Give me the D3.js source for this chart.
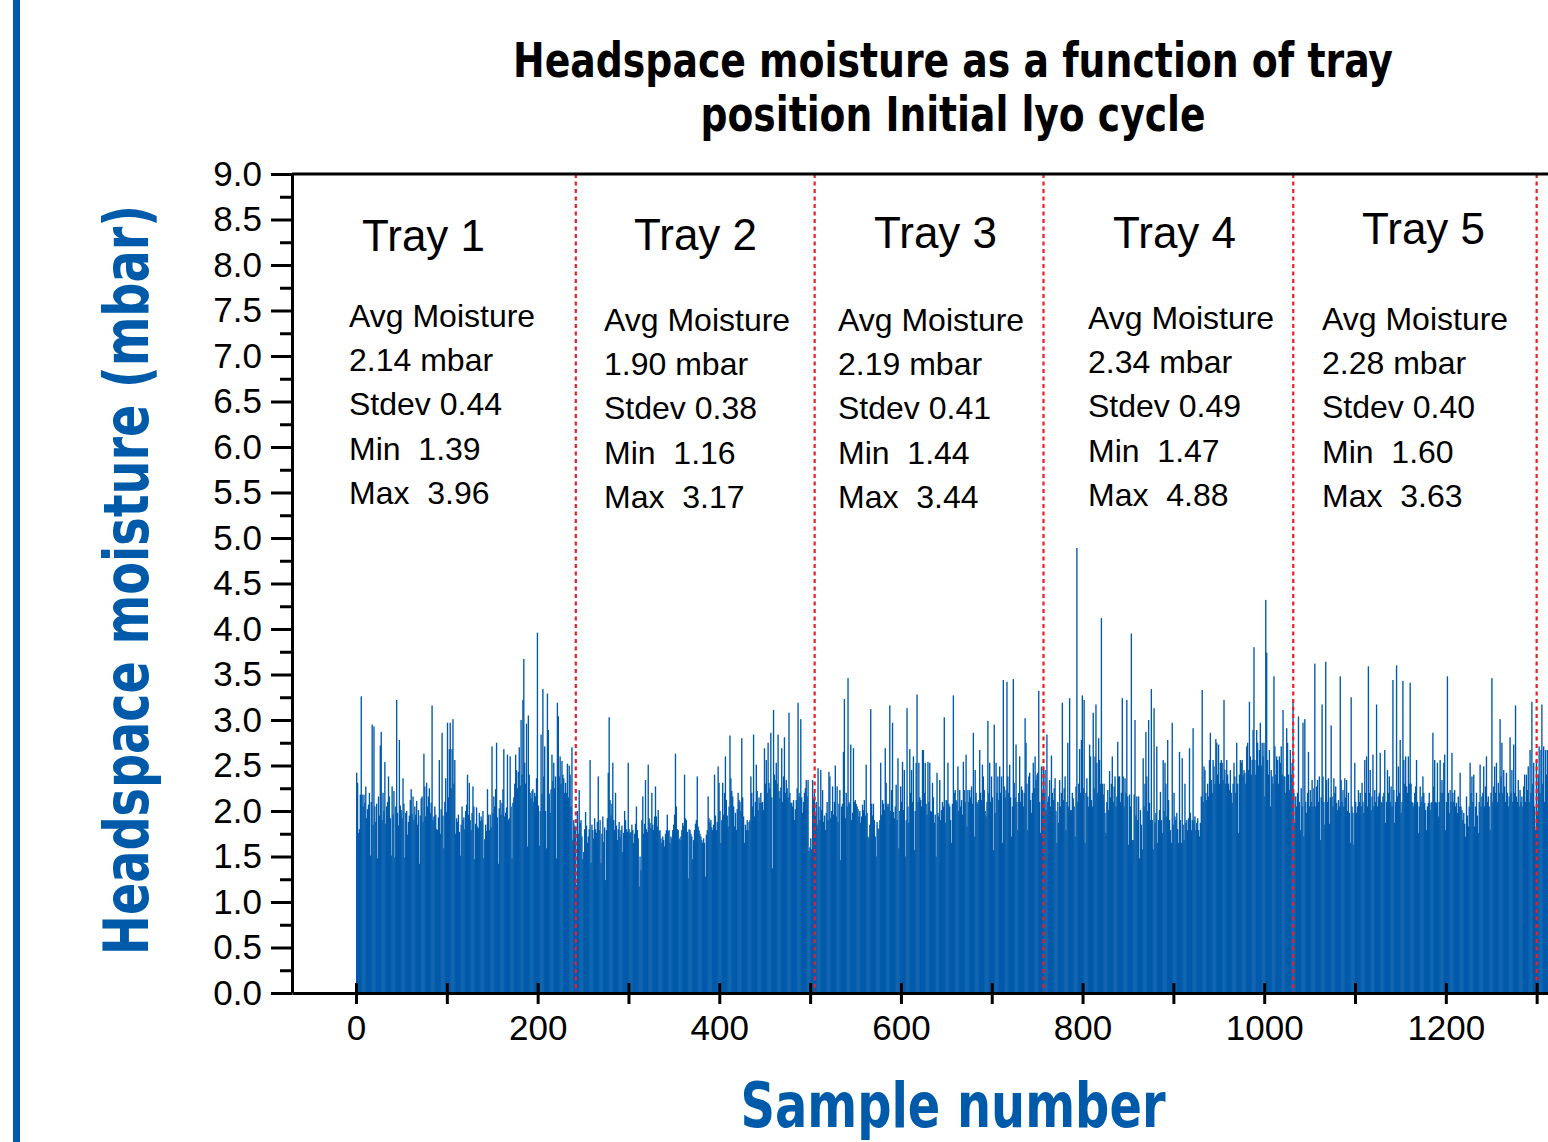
<!DOCTYPE html>
<html>
<head>
<meta charset="utf-8">
<script src="https://cdn.jsdelivr.net/npm/d3@7"></script>
<style>
  html, body { margin: 0; padding: 0; background: #fff; }
  svg { display: block; }
</style>
</head>
<body>
<div id="chart"></div>
<script>
// ---- data ----
const trayNames = ["Tray 1", "Tray 2", "Tray 3", "Tray 4", "Tray 5"];
const avgMoisture = ["2.14", "1.90", "2.19", "2.34", "2.28"];
const stdevs = ["0.44", "0.38", "0.41", "0.49", "0.40"];
const mins = ["1.39", "1.16", "1.44", "1.47", "1.60"];
const maxs = ["3.96", "3.17", "3.44", "4.88", "3.63"];
// last sample number of each tray (dashed separators)
const trayEnds = [242, 505, 757, 1032, 1300];

const yTicks = d3.range(0, 9.01, 0.5);
const yMinor = d3.range(0.25, 9, 0.5);
const xTicks = d3.range(0, 1301, 100);

// headspace moisture per sample (mbar), samples 1..242
const tray1 = [
  2.42,2.31,1.76,1.80,2.18,3.26,2.18,2.05,2.18,2.09,
  2.27,1.92,2.02,2.07,2.20,1.51,2.10,2.95,1.85,2.93,
  2.05,1.88,2.08,1.48,2.16,1.95,2.72,2.87,1.90,2.20,
  2.00,2.54,1.86,2.05,2.10,2.38,2.16,1.92,1.51,2.27,
  1.96,2.22,1.49,2.05,3.22,1.98,1.84,2.78,2.06,2.01,
  1.92,2.36,2.08,1.49,1.98,2.00,1.74,1.88,1.95,2.12,
  2.24,1.97,2.16,1.90,2.05,1.96,2.11,1.85,2.01,1.42,
  1.95,2.14,2.16,1.88,2.63,2.27,1.94,2.31,2.05,2.16,
  2.25,1.98,2.09,3.16,1.90,1.94,2.05,1.96,1.80,1.79,
  1.93,2.56,1.75,2.02,2.86,1.95,1.59,2.10,2.36,1.99,
  2.97,2.15,2.68,2.97,2.25,2.68,3.01,2.30,2.56,1.75,
  1.92,1.88,1.96,1.77,1.51,1.85,2.05,1.90,1.93,1.80,
  2.00,2.07,2.40,1.96,2.31,1.90,1.79,1.98,2.27,2.05,
  1.47,1.86,2.04,1.83,1.81,1.98,1.89,1.94,1.90,2.00,
  1.48,1.69,1.85,1.78,2.24,1.96,1.79,1.96,1.82,2.71,
  1.98,2.16,2.05,2.24,2.75,1.93,1.42,2.03,2.12,1.96,
  2.09,2.24,2.68,1.94,1.98,2.04,2.62,1.90,1.92,2.60,
  2.05,1.48,2.09,2.15,2.30,2.62,2.45,2.25,2.43,2.70,
  2.28,3.00,2.40,3.22,3.67,2.53,2.30,2.96,1.61,3.05,
  2.40,2.20,2.14,2.22,2.24,2.10,2.20,2.16,2.36,3.96,
  2.06,1.62,2.00,2.84,2.19,3.34,2.38,2.71,2.00,1.59,
  3.29,2.89,2.19,1.98,2.24,2.62,2.33,2.53,2.25,2.38,
  1.48,3.19,3.04,2.38,2.60,2.30,2.55,2.40,2.36,2.20,
  2.31,2.20,2.52,2.15,2.50,2.40,2.05,2.70,1.68,1.90,1.84,1.79
];
// samples 243..505
const tray2 = [
  1.19,2.00,1.75,2.23,1.87,1.90,1.72,1.47,1.55,1.80,
  1.99,1.84,1.65,1.72,1.80,2.56,1.43,1.85,1.79,1.70,
  1.92,1.80,1.76,1.88,2.38,1.79,1.90,1.43,1.75,1.94,
  1.66,1.82,1.24,1.79,1.92,2.42,3.03,2.12,1.95,2.08,
  2.53,1.90,1.79,2.20,1.84,1.68,1.80,1.88,1.72,1.79,
  1.84,1.55,1.76,2.00,1.90,1.80,1.77,2.53,1.80,1.76,
  1.77,1.85,1.79,1.65,1.75,1.86,2.05,1.79,1.70,1.17,
  1.50,1.35,1.90,2.16,1.75,1.86,2.34,1.80,1.77,2.51,
  1.92,1.87,1.81,2.20,1.85,1.79,1.94,2.27,1.94,1.83,
  2.01,1.78,1.79,1.70,1.65,1.72,1.68,1.61,1.75,1.79,
  1.96,1.78,1.79,1.65,1.72,1.70,1.79,1.85,1.96,2.63,
  2.05,1.80,1.79,1.70,1.68,1.72,1.79,1.87,1.84,2.40,
  1.92,1.90,1.77,1.26,1.80,1.79,1.75,1.72,1.47,1.68,
  1.79,1.86,1.90,2.38,1.83,1.79,1.75,1.72,1.68,1.65,
  1.70,1.65,1.28,1.74,1.79,2.16,1.92,1.87,1.90,1.82,
  1.79,1.85,2.40,1.95,1.79,1.88,2.49,2.31,2.00,1.65,
  1.90,2.31,1.96,2.20,2.60,2.12,1.95,1.83,2.05,2.83,
  2.36,2.22,2.16,2.05,1.83,1.98,1.79,2.02,2.20,2.12,
  2.10,2.00,2.80,2.15,1.94,1.65,1.85,1.79,1.90,1.79,
  1.88,1.90,2.38,2.20,2.05,2.84,1.94,2.10,2.51,2.22,
  2.01,2.15,2.09,2.20,2.09,2.10,2.01,2.69,2.30,2.56,
  2.20,2.75,2.31,2.25,2.86,2.15,1.37,3.11,2.40,2.34,
  2.53,2.30,2.84,2.22,2.14,2.26,2.69,2.10,2.38,2.81,
  2.20,2.34,2.25,2.15,3.08,2.20,2.09,2.09,2.05,2.12,
  1.90,2.02,2.12,2.25,3.19,2.16,2.20,3.01,2.15,1.98,
  2.10,2.20,2.25,2.34,2.16,2.34,1.56,1.60,1.70,1.58,2.34,2.14,2.20
];
// samples 506..757
const tray3 = [
  1.95,2.10,1.85,2.47,2.05,1.90,2.45,2.01,2.23,1.88,
  1.95,1.79,1.98,2.10,1.90,2.43,2.38,1.92,2.00,2.27,
  1.96,2.10,2.50,1.94,2.27,1.88,2.08,2.23,1.46,2.05,
  2.08,2.65,3.23,1.92,2.20,2.05,3.46,2.10,2.08,2.73,
  1.90,1.98,2.69,2.10,2.12,2.08,2.05,2.02,1.94,2.00,
  1.87,1.94,2.07,2.01,2.12,1.95,2.51,1.98,1.72,1.70,
  1.85,3.12,2.08,1.95,2.08,1.90,1.72,1.50,1.88,1.81,
  1.80,1.90,2.53,1.96,2.12,2.08,2.01,2.69,2.31,2.08,
  2.05,2.08,3.16,2.00,2.23,2.97,1.99,1.92,2.05,2.29,
  1.90,2.58,1.59,2.00,2.27,2.10,2.54,2.01,2.45,1.50,
  1.90,3.13,2.05,1.87,2.68,2.20,2.45,2.10,2.60,1.57,
  2.00,2.53,3.28,2.10,2.53,2.15,2.12,2.05,2.67,2.67,
  2.20,2.53,2.08,1.96,2.54,2.10,2.53,2.00,1.99,2.31,
  2.15,1.87,1.96,1.50,2.42,1.98,1.94,2.34,1.90,2.01,
  2.10,2.05,3.03,1.87,2.12,2.12,2.53,2.08,2.05,1.90,
  1.65,2.08,3.27,2.20,2.23,2.12,2.10,2.49,2.00,2.23,
  2.05,2.12,1.96,2.54,2.23,2.10,2.62,1.83,2.23,2.10,
  2.23,2.15,2.27,2.08,2.86,1.72,2.45,2.20,2.10,2.08,
  2.12,2.67,2.20,2.12,2.51,2.38,2.23,2.00,1.94,2.10,
  2.99,2.20,2.53,2.10,2.38,2.15,1.57,2.95,1.98,2.53,
  2.20,2.38,2.12,2.49,2.20,2.38,1.65,3.44,2.27,2.15,
  2.23,3.42,2.38,2.20,2.51,2.15,1.72,2.05,3.45,2.31,
  2.15,2.73,2.10,1.79,2.20,2.60,2.10,2.27,2.23,2.05,
  2.20,3.02,2.75,2.30,1.79,2.38,2.42,2.12,1.98,2.20,
  2.53,2.25,2.60,2.34,2.40,2.42,3.32,2.10,1.76,2.49,2.20,2.49
];
// samples 758..1032
const tray4 = [
  2.20,2.45,2.01,2.84,2.10,2.16,2.34,2.05,2.61,2.20,
  2.12,2.25,2.36,2.00,1.65,2.10,1.87,2.34,2.05,2.20,
  3.19,2.12,2.25,2.38,1.79,2.10,2.75,2.05,3.24,2.01,
  2.01,2.20,2.14,2.05,1.72,2.27,4.89,2.10,2.30,2.68,
  2.20,2.78,3.27,2.25,3.22,1.65,2.20,2.36,2.16,2.05,
  2.73,2.60,2.12,2.05,3.08,2.25,2.60,3.17,2.53,2.20,
  2.80,2.56,2.30,4.12,2.30,2.18,2.30,1.98,1.76,2.10,
  2.23,2.01,2.44,2.15,2.30,2.60,2.10,2.27,2.38,2.05,
  2.16,2.76,2.38,2.38,2.10,2.20,3.24,2.38,2.05,2.36,
  2.20,3.22,2.16,1.63,2.18,2.05,3.95,1.68,1.68,2.18,
  3.00,1.95,2.16,1.90,2.16,1.48,2.01,1.85,1.58,2.58,
  2.05,2.30,2.87,2.38,2.00,3.00,2.09,1.90,3.34,1.90,
  1.58,3.13,1.87,1.98,2.71,1.65,1.90,2.01,2.21,1.90,
  1.76,2.56,2.00,2.53,2.30,1.94,2.78,2.12,1.90,1.79,
  1.65,2.97,1.85,2.20,1.94,1.90,1.98,1.80,1.65,2.65,
  1.90,1.65,2.58,1.85,1.68,2.30,1.87,1.90,1.79,1.92,
  2.69,1.98,1.79,1.90,2.91,1.90,1.94,1.79,1.87,1.92,
  1.79,1.72,1.87,2.16,3.33,2.10,2.49,2.45,2.20,2.12,
  2.30,2.16,2.56,2.86,2.34,2.20,2.56,2.49,2.30,2.79,
  2.75,2.40,2.73,2.30,2.53,2.56,2.53,2.34,3.22,2.45,
  2.30,2.56,2.40,2.30,2.23,2.45,2.20,2.09,2.30,2.53,
  2.38,2.20,2.75,2.30,1.76,2.40,2.56,2.53,2.56,2.40,
  2.45,2.42,2.30,2.71,2.75,2.45,3.20,2.60,2.40,2.56,
  2.89,3.80,2.56,2.40,2.89,2.75,2.50,2.67,2.97,2.50,
  2.75,2.60,2.75,2.16,4.32,3.74,2.56,2.40,2.67,2.05,
  2.45,2.38,2.30,3.48,2.71,2.40,2.60,2.56,2.30,2.60,
  2.53,2.71,2.40,3.11,2.38,2.38,2.20,2.91,2.75,2.40,
  2.23,2.67,2.40,2.53,3.20
];
// samples 1033..1300
const tray5 = [
  2.20,1.87,2.16,2.05,2.20,3.04,2.10,1.79,2.25,2.05,
  2.97,1.72,3.01,2.10,1.98,2.20,2.65,2.05,2.23,2.10,
  2.34,2.05,2.25,3.62,2.05,2.27,2.34,2.10,2.38,1.68,
  2.15,3.17,2.38,2.10,1.85,3.64,2.34,2.10,2.36,1.86,
  2.15,2.94,2.16,2.05,2.36,2.20,2.27,2.09,2.01,2.12,
  2.05,3.48,2.34,2.10,2.23,2.05,2.36,2.15,2.34,2.00,
  2.20,1.98,1.65,3.25,2.05,1.98,1.63,2.53,2.10,1.98,
  2.05,2.23,2.10,2.20,2.05,2.31,2.10,1.98,2.56,2.20,
  2.60,2.05,3.59,2.20,2.45,2.01,2.16,2.62,2.05,2.23,
  2.10,3.17,2.05,2.16,2.20,2.64,2.10,2.09,2.16,2.20,
  2.67,1.87,2.10,2.45,2.20,2.38,2.10,2.27,2.05,3.44,
  2.23,1.87,2.10,3.60,2.16,2.49,2.20,2.78,1.98,2.10,
  3.43,2.56,2.30,2.60,2.27,2.20,2.60,2.30,3.41,2.30,
  2.10,2.09,2.05,2.20,2.27,2.56,2.10,1.76,2.05,2.27,
  2.10,2.16,2.38,2.20,2.09,2.01,1.79,2.05,2.09,2.20,
  2.01,2.09,2.10,2.86,2.27,2.56,2.10,2.09,2.53,1.94,
  2.10,2.56,2.20,2.34,2.20,2.53,2.62,1.79,2.10,3.48,
  2.20,1.98,2.23,2.10,2.64,2.20,2.10,2.23,2.05,2.09,
  1.98,2.16,2.05,2.42,2.05,2.01,1.90,1.98,1.86,1.72,
  2.16,1.95,1.83,2.05,2.53,2.20,2.38,2.10,2.40,1.83,
  2.05,2.20,1.95,1.76,2.10,2.51,2.05,2.16,2.20,2.49,
  2.05,2.27,2.60,2.10,2.16,2.05,1.79,2.20,3.46,2.10,
  2.27,2.49,2.20,2.53,2.10,2.31,2.20,3.01,2.38,2.75,
  2.20,2.45,2.27,2.10,2.42,2.20,2.05,2.16,2.81,2.20,
  2.45,2.10,2.73,2.20,3.16,2.16,2.10,2.34,2.05,2.23,
  2.10,2.16,2.05,2.27,2.40,2.10,2.40,2.23,2.49,2.10,
  2.67,2.20,3.20,2.30,2.53,2.05,1.79,2.56
];
// first samples of the next tray, cut off at the right edge (1301..1314)
const tray6 = [2.00,2.40,2.71,2.20,2.67,3.17,2.30,2.71,2.10,2.67,2.40,2.67,2.16,2.30];

const samples = [].concat(tray1, tray2, tray3, tray4, tray5, tray6)
  .map((v, i) => ({ n: i + 1, v }));

// ---- layout ----
const W = 1548, H = 1142;
const blue = "#005aaa";
const tickFont = "'Liberation Sans', Arial, Helvetica, sans-serif";
const headFont = "'Liberation Sans Narrow', 'DejaVu Sans Condensed', 'Liberation Sans', sans-serif";

const svg = d3.select("#chart").append("svg")
  .attr("width", W)
  .attr("height", H);

svg.append("rect").attr("width", W).attr("height", H).attr("fill", "#fff");

// blue stripe at the left edge
svg.append("rect")
  .attr("x", 13).attr("y", 0)
  .attr("width", 7).attr("height", H)
  .attr("fill", blue);

const x = d3.scaleLinear().domain([-70.5, 1312.5]).range([292, 1548]);
const y = d3.scaleLinear().domain([0, 9]).range([993, 174]);

// bars (slightly overlapped so the body reads as a solid block)
const bw = x(1) - x(0);
svg.append("g")
  .selectAll("rect")
  .data(samples)
  .join("rect")
  .attr("x", d => x(d.n - 1))
  .attr("y", d => y(d.v))
  .attr("width", bw + 0.45)
  .attr("height", d => y(0) - y(d.v))
  .attr("fill", blue);

// tray separators
svg.append("g")
  .selectAll("line")
  .data(trayEnds)
  .join("line")
  .attr("x1", d => x(d)).attr("x2", d => x(d))
  .attr("y1", y(9)).attr("y2", y(0))
  .attr("stroke", "#ee1c25")
  .attr("stroke-width", 2.2)
  .attr("stroke-dasharray", "4,3.5");

// top frame line
svg.append("line")
  .attr("x1", 292).attr("x2", W)
  .attr("y1", y(9)).attr("y2", y(9))
  .attr("stroke", "#000").attr("stroke-width", 3);

// y axis
svg.append("g")
  .attr("transform", "translate(292,0)")
  .call(d3.axisLeft(y)
    .tickValues(yTicks)
    .tickSize(21)
    .tickSizeOuter(0)
    .tickPadding(9)
    .tickFormat(d3.format(".1f")));

svg.append("g")
  .attr("transform", "translate(292,0)")
  .call(d3.axisLeft(y).tickValues(yMinor).tickSize(12).tickSizeOuter(0).tickFormat(""))
  .call(g => g.select(".domain").remove());

// x axis
const xAxisG = svg.append("g")
  .attr("transform", `translate(0,${y(0)})`)
  .call(d3.axisBottom(x)
    .tickValues(xTicks)
    .tickSize(11)
    .tickSizeOuter(0)
    .tickFormat(d => d % 200 === 0 ? d : ""));

xAxisG.selectAll(".tick line").attr("y1", -10).attr("y2", 11);
xAxisG.selectAll(".tick text").attr("y", 22);

svg.selectAll(".domain, .tick line")
  .attr("stroke", "#000")
  .attr("stroke-width", 3);

svg.selectAll(".tick text")
  .attr("fill", "#000")
  .style("font-family", tickFont)
  .style("font-size", "35px");

// tray labels and stats
const trayTitlePos = [[362, 251], [634, 250], [874, 248], [1113, 248], [1362, 244]];
const statsPos = [[349, 327], [604, 331], [838, 331], [1088, 329], [1322, 330]];

trayNames.forEach((name, i) => {
  svg.append("text")
    .attr("x", trayTitlePos[i][0])
    .attr("y", trayTitlePos[i][1])
    .style("font-family", tickFont)
    .style("font-size", "44px")
    .attr("fill", "#000")
    .text(name);

  const lines = [
    "Avg Moisture",
    avgMoisture[i] + " mbar",
    "Stdev " + stdevs[i],
    "Min  " + mins[i],
    "Max  " + maxs[i]
  ];
  const t = svg.append("text")
    .attr("x", statsPos[i][0])
    .attr("y", statsPos[i][1])
    .style("font-family", tickFont)
    .style("font-size", "32px")
    .style("white-space", "pre")
    .attr("fill", "#000");
  lines.forEach((s, k) => {
    t.append("tspan")
      .attr("x", statsPos[i][0])
      .attr("dy", k === 0 ? 0 : 44.2)
      .text(s);
  });
});

// title
const titleLines = ["Headspace moisture as a function of tray", "position Initial lyo cycle"];
const titleWidths = [880, 505];
titleLines.forEach((s, i) => {
  svg.append("text")
    .attr("x", 953)
    .attr("y", 77 + i * 54)
    .attr("text-anchor", "middle")
    .attr("textLength", titleWidths[i])
    .attr("lengthAdjust", "spacingAndGlyphs")
    .style("font-family", headFont)
    .style("font-weight", "bold")
    .style("font-size", "48px")
    .attr("fill", "#000")
    .text(s);
});

// axis titles
svg.append("text")
  .attr("transform", "translate(148,580) rotate(-90)")
  .attr("text-anchor", "middle")
  .attr("textLength", 750)
  .attr("lengthAdjust", "spacingAndGlyphs")
  .style("font-family", headFont)
  .style("font-weight", "bold")
  .style("font-size", "62px")
  .attr("fill", blue)
  .text("Headspace moisture (mbar)");

svg.append("text")
  .attr("x", 953)
  .attr("y", 1127)
  .attr("text-anchor", "middle")
  .attr("textLength", 425)
  .attr("lengthAdjust", "spacingAndGlyphs")
  .style("font-family", headFont)
  .style("font-weight", "bold")
  .style("font-size", "62px")
  .attr("fill", blue)
  .text("Sample number");
</script>
</body>
</html>
